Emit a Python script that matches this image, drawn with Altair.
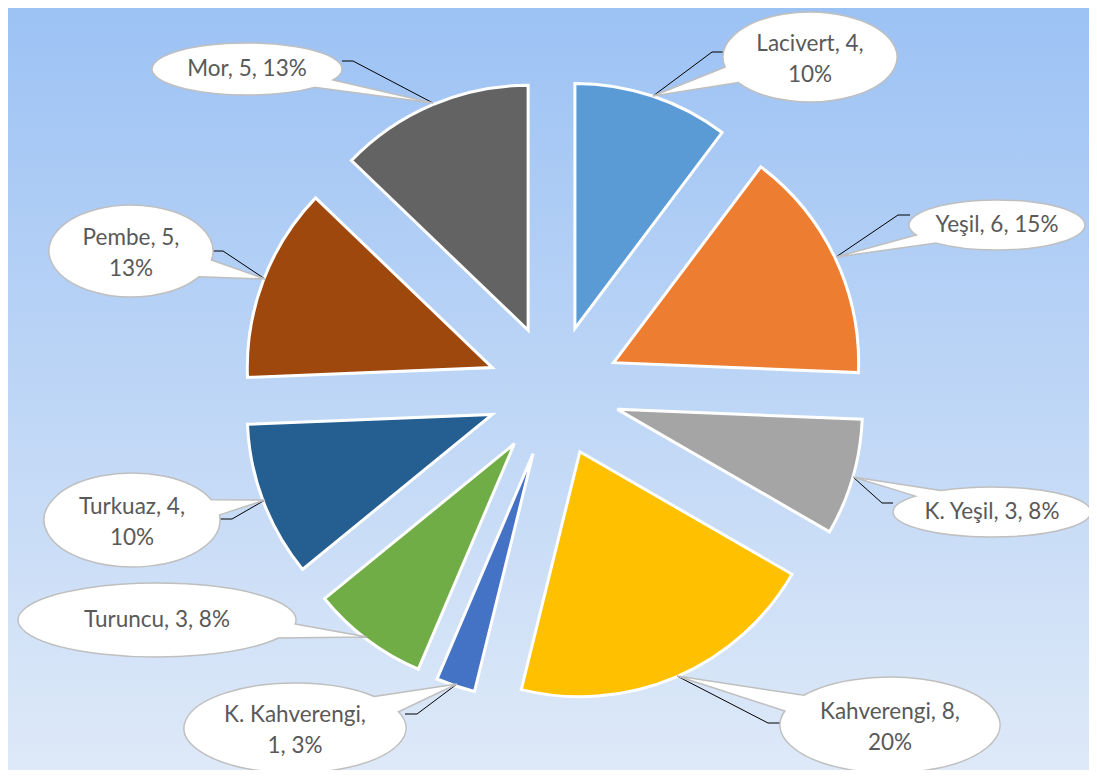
import math
import altair as alt
import pandas as pd

# ---------------- data ----------------
categories = ["Lacivert", "Yeşil", "K. Yeşil", "Kahverengi", "K. Kahverengi",
              "Turuncu", "Turkuaz", "Pembe", "Mor"]
values = [4, 6, 3, 8, 1, 3, 4, 5, 5]
percents = [10, 15, 8, 20, 3, 8, 10, 13, 13]
colors = ["#5B9BD5", "#ED7D31", "#A5A5A5", "#FFC000", "#4472C4",
          "#70AD47", "#255E91", "#9E480E", "#636363"]

# label wrapping: 0 = one line, 1 = break after value, 2 = break after name
label_wrap = [1, 0, 0, 1, 2, 0, 1, 1, 0]

# ---------------- layout ----------------
W, H = 1081, 762
OFF = 8  # page margin -> scale domain starts here
PIE_CX, PIE_CY, PIE_R, EXPLODE = 554, 391, 245, 66
LINE_H = 31
TWO_LINE_SHIFT = 13

bubble_center = [(810, 57), (997, 225), (992, 512), (890, 725), (295, 728),
                 (157, 620), (132, 520), (131, 251), (247, 69)]
bubble_radii = [(87, 45), (88, 25), (99, 25), (110, 48), (111, 45),
                (139, 37), (88, 47), (82, 46), (95, 26)]
tail_tip = [(653, 96), (836, 257), (853, 477), (677, 676), (457, 684),
            (367, 637), (265, 500), (265, 279), (433, 103)]
tail_base = [((725, 67), (740, 82)), ((917, 235), (940, 242)),
             ((910, 495), (937, 489)), ((803, 695), (785, 711)),
             ((373, 697), (397, 712)), ((294, 624), (278, 638)),
             ((210, 500), (218, 515)), ((212, 260), (200, 277)),
             ((333, 80), (313, 87))]
leader_knee = [(712, 52), (898, 215), (882, 503), (768, 723), (417, 714),
               (300, 634), (232, 519), (223, 251), (353, 61)]
leader_end = [(725, 52), (910, 215), (893, 503), (780, 723), (405, 714),
              (296, 634), (220, 519), (213, 251), (342, 61)]


def bubble_path(c, r, base, tip):
    cx, cy = c
    rx, ry = r
    ts = [math.atan2((by - cy) / ry, (bx - cx) / rx) for bx, by in base]
    t1, t2 = ts
    if (t2 - t1) % (2 * math.pi) > math.pi:
        t1, t2 = t2, t1
    p1 = (rx * math.cos(t1), ry * math.sin(t1))
    p2 = (rx * math.cos(t2), ry * math.sin(t2))
    tx, ty = tip[0] - cx, tip[1] - cy
    return (f"M{p1[0]:.2f},{p1[1]:.2f} L{tx},{ty} L{p2[0]:.2f},{p2[1]:.2f} "
            f"A{rx},{ry} 0 1 1 {p1[0]:.2f},{p1[1]:.2f} Z")


def make_label(name, v, p, mode):
    if mode == 1:
        return f"{name}, {v},\n{p}%"
    if mode == 2:
        return f"{name},\n{v}, {p}%"
    return f"{name}, {v}, {p}%"


X = alt.X("px:Q", scale=alt.Scale(domain=[OFF, OFF + W], nice=False, zero=False), axis=None)
Y = alt.Y("py:Q", scale=alt.Scale(domain=[OFF, OFF + H], nice=False, zero=False, reverse=True), axis=None)

# background gradient
bg = alt.Chart(pd.DataFrame({"a": [0]})).mark_rect(
    fill={"gradient": "linear", "x1": 0, "y1": 0, "x2": 0, "y2": 1,
          "stops": [{"offset": 0, "color": "#9CC2F4"},
                    {"offset": 1, "color": "#DEE9F8"}]}
).encode(x=alt.value(0), x2=alt.value(W), y=alt.value(0), y2=alt.value(H))

# exploded pie
pie_df = pd.DataFrame({"kategori": categories, "deger": values,
                       "sira": list(range(len(categories)))})
arcs = alt.Chart(pie_df).transform_joinaggregate(
    toplam="sum(deger)"
).transform_window(
    kum="sum(deger)", sort=[alt.SortField("sira")], frame=[None, 0]
).transform_calculate(
    t0="2*PI*(datum.kum - datum.deger)/datum.toplam",
    t1="2*PI*datum.kum/datum.toplam",
).transform_calculate(
    tm="(datum.t0 + datum.t1)/2"
).transform_calculate(
    px=f"{PIE_CX} + {EXPLODE}*sin(datum.tm)",
    py=f"{PIE_CY} - {EXPLODE}*cos(datum.tm)",
).mark_arc(outerRadius=PIE_R, stroke="white", strokeWidth=3).encode(
    x=X, y=Y,
    theta=alt.Theta("t0:Q", scale=None, stack=None),
    theta2="t1:Q",
    color=alt.Color("kategori:N", scale=alt.Scale(domain=categories, range=colors), legend=None),
)

# leader lines
rows = []
for i, name in enumerate(categories):
    for k, pt in enumerate([tail_tip[i], leader_knee[i], leader_end[i]]):
        rows.append({"kategori": name, "adim": k, "px": pt[0], "py": pt[1]})
leaders = alt.Chart(pd.DataFrame(rows)).mark_line(color="black", strokeWidth=1).encode(
    x=X, y=Y, detail="kategori:N", order="adim:Q"
)

# callout bubbles + labels
lab_df = pd.DataFrame({
    "kategori": categories,
    "px": [c[0] for c in bubble_center],
    "py": [c[1] for c in bubble_center],
    "yol": [bubble_path(bubble_center[i], bubble_radii[i], tail_base[i], tail_tip[i])
            for i in range(len(categories))],
    "etiket": [make_label(categories[i], values[i], percents[i], label_wrap[i])
               for i in range(len(categories))],
})
txt_df = pd.DataFrame({
    "px": [c[0] for c in bubble_center],
    "py": [c[1] - (TWO_LINE_SHIFT if label_wrap[i] else 0) for i, c in enumerate(bubble_center)],
    "etiket": lab_df["etiket"],
})

bubbles = alt.Chart(lab_df).mark_point(
    filled=True, fill="white", stroke="#BFBFBF", strokeWidth=1.5, size=4, opacity=1
).encode(x=X, y=Y, shape=alt.Shape("yol:N", scale=None))

texts = alt.Chart(txt_df).mark_text(
    font="Lato", fontSize=22.5, color="#595959", lineBreak="\n", lineHeight=LINE_H,
    align="center", baseline="middle"
).encode(x=X, y=Y, text="etiket:N")

chart = alt.layer(bg, arcs, leaders, bubbles, texts).properties(
    width=W, height=H, padding=0, autosize="none"
).configure_view(stroke="#D0D0D0", strokeWidth=1)

chart.save("out.html", embed_options={"renderer": "svg", "actions": False})
